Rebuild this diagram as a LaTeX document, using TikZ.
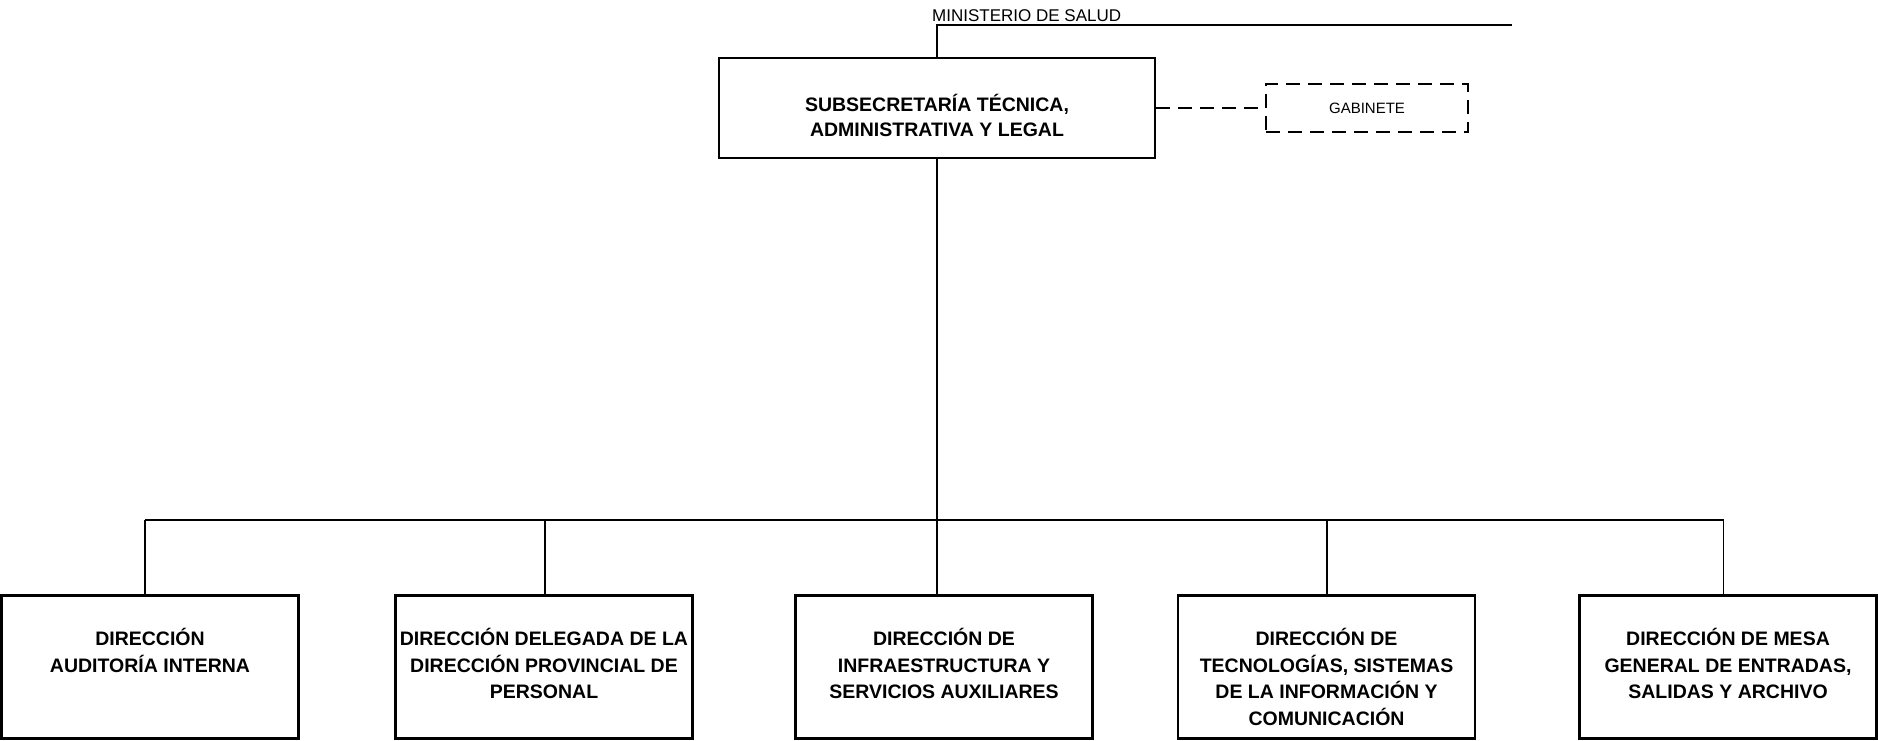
\documentclass[tikz,border=0pt]{standalone}
\usepackage{fontspec}
\setmainfont{Liberation Sans}
\usetikzlibrary{positioning}

% text block hung from the top of its box
\newcommand{\toptext}[3]{\parbox[c][#1][t]{#2}{\centering\rule{0pt}{20pt}#3}}

\begin{document}
\begin{tikzpicture}[
        x=1pt, y=-1pt,
        unit/.style={draw, line width=2.2pt, minimum width=436pt, minimum height=100pt, inner sep=0pt, font=\bfseries\fontsize{19.5}{25}\selectfont},
        aide/.style={draw, line width=2.4pt, dash pattern=on 14pt off 8pt, minimum width=202pt, minimum height=48pt, inner sep=0pt, font=\fontsize{15}{18}\selectfont},
        office/.style={draw, line width=2.5pt, minimum width=297pt, minimum height=143pt, inner sep=0pt, font=\bfseries\fontsize{19.5}{26.5}\selectfont},
        line/.style={draw, line width=1.2pt},
        dashline/.style={draw, line width=2.4pt, dash pattern=on 14pt off 8pt}
    ]
        \useasboundingbox (0,0) rectangle (1878,740);

        % Top level
        \node [anchor=base west, inner sep=0pt, font=\fontsize{17}{20}\selectfont] (ministerio) at (932,21) {MINISTERIO DE SALUD};
        \coordinate (top) at (937,25);
        \coordinate (topend) at (1511.5,25);
        \node [unit] (subsec) at (937,108) {\toptext{34pt}{420pt}{SUBSECRETARÍA TÉCNICA,\\ADMINISTRATIVA Y LEGAL}};
        \node [aide] (gabinete) at (1367,108) {GABINETE};

        \path [line] (topend) -- (top) -- (subsec.north);
        \path [dashline] (subsec.east) -- (gabinete.west);

        % Directorates
        \node [office] (auditoria) at (150,667) {\toptext{83pt}{294pt}{DIRECCIÓN\\AUDITORÍA INTERNA}};
        \node [office] (personal) at (544,667) {\toptext{83pt}{294pt}{DIRECCIÓN DELEGADA DE LA\\DIRECCIÓN PROVINCIAL DE\\PERSONAL}};
        \node [office] (infra) at (944,667) {\toptext{83pt}{294pt}{DIRECCIÓN DE\\INFRAESTRUCTURA Y\\SERVICIOS AUXILIARES}};
        \node [office] (tecno) at (1326.5,667) {\toptext{83pt}{294pt}{DIRECCIÓN DE\\TECNOLOGÍAS, SISTEMAS\\DE LA INFORMACIÓN Y\\COMUNICACIÓN}};
        \node [office] (mesa) at (1728,667) {\toptext{83pt}{294pt}{DIRECCIÓN DE MESA\\GENERAL DE ENTRADAS,\\SALIDAS Y ARCHIVO}};

        \coordinate (bus) at (937,520);
        \coordinate (busL) at (145,520);
        \coordinate (busP) at (545,520);
        \coordinate (busT) at (1327,520);
        \coordinate (busR) at (1723.5,520);

        \path [line] (subsec.south) -- (bus);
        \path [line] (busL) -- (busR);
        \path [line] (busL) -- (busL |- auditoria.north);
        \path [line] (busP) -- (busP |- personal.north);
        \path [line] (bus) -- (bus |- infra.north);
        \path [line] (busT) -- (busT |- tecno.north);
        \path [line] (busR) -- (busR |- mesa.north);

    \end{tikzpicture}
\end{document}
